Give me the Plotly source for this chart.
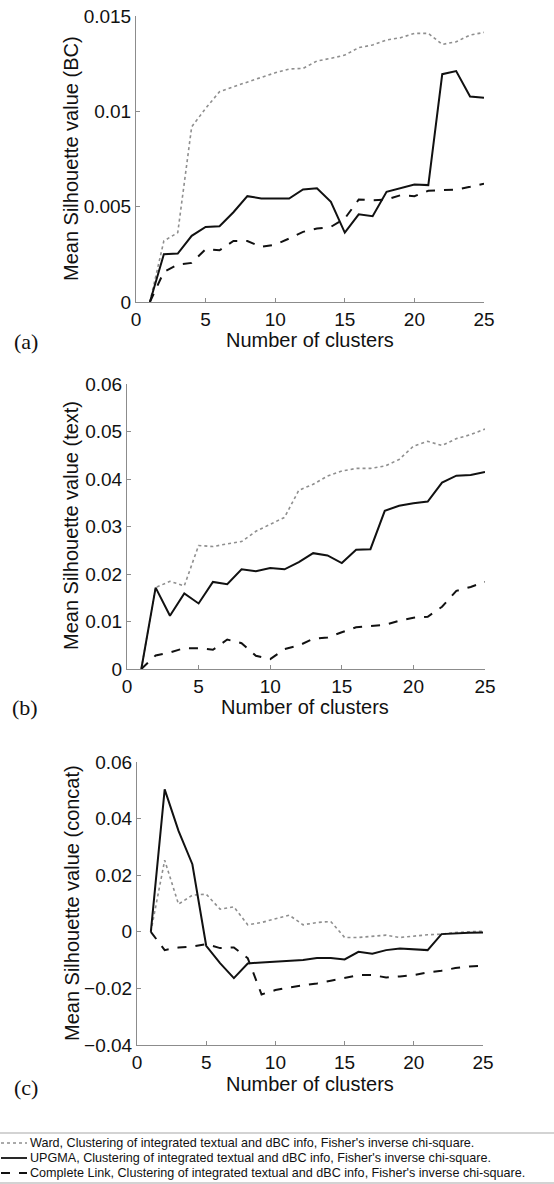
import plotly.graph_objects as go

clusters = list(range(1, 26))

# Panel (a): Mean Silhouette value (BC)
bc_ward = [0, 0.0032, 0.00364, 0.00919, 0.01015, 0.01103, 0.01129, 0.01155, 0.01178, 0.01202,
           0.01222, 0.01225, 0.01264, 0.01278, 0.01295, 0.01334, 0.01348, 0.01374, 0.01386, 0.01409,
           0.01409, 0.01351, 0.01365, 0.0140, 0.01414]
bc_upgma = [0, 0.0025, 0.00254, 0.00347, 0.00394, 0.00397, 0.00471, 0.00555, 0.00543, 0.00543,
            0.00543, 0.0059, 0.00597, 0.00525, 0.00364, 0.0046, 0.0045, 0.00578, 0.00599, 0.00616,
            0.00613, 0.01195, 0.01211, 0.01078, 0.01071]
bc_complete = [0, 0.00158, 0.00196, 0.00205, 0.00277, 0.00271, 0.0032, 0.0032, 0.00289, 0.00301,
               0.00333, 0.00368, 0.00385, 0.00394, 0.00438, 0.00537, 0.00534, 0.00537, 0.0056, 0.00555,
               0.00583, 0.00586, 0.0059, 0.00604, 0.00621]

# Panel (b): Mean Silhouette value (text)
tx_ward = [0, 0.01714, 0.01847, 0.01749, 0.026, 0.02578, 0.02634, 0.02683, 0.02899, 0.03038,
           0.03192, 0.03763, 0.03889, 0.04063, 0.04167, 0.04223, 0.04223, 0.04272, 0.04411, 0.0469,
           0.04794, 0.04704, 0.0485, 0.04934, 0.05052]
tx_upgma = [0, 0.01714, 0.01122, 0.01589, 0.0138, 0.01833, 0.01784, 0.02098, 0.02056, 0.02125,
            0.02098, 0.0225, 0.02439, 0.0239, 0.0223, 0.02509, 0.02523, 0.03331, 0.03436, 0.03491,
            0.03526, 0.03923, 0.0407, 0.04084, 0.04146]
tx_complete = [0, 0.00286, 0.00348, 0.00439, 0.00439, 0.00404, 0.0062, 0.00544, 0.00279, 0.00209,
               0.00418, 0.00495, 0.00634, 0.00662, 0.00774, 0.00878, 0.00906, 0.00927, 0.01017, 0.0108,
               0.01101, 0.0131, 0.01645, 0.01728, 0.01833]

# Panel (c): Mean Silhouette value (concat)
cc_ward = [0, 0.0253, 0.00976, 0.01294, 0.0133, 0.008, 0.00882, 0.00247, 0.00329, 0.00471,
           0.00588, 0.00247, 0.00329, 0.00365, -0.002, -0.002, -0.00153, -0.00118, -0.002, -0.00141,
           -0.00106, -0.00082, -0.00024, 0.0, 0.00024]
cc_upgma = [0, 0.05035, 0.03565, 0.02388, -0.00494, -0.01106, -0.01635, -0.01118, -0.01082, -0.01047,
            -0.01024, -0.0100, -0.0093, -0.0093, -0.00976, -0.00706, -0.00776, -0.00647, -0.00588, -0.00624,
            -0.00647, -0.00082, -0.00047, -0.00035, -0.00024]
cc_complete = [0, -0.00647, -0.00553, -0.00518, -0.00435, -0.00576, -0.00553, -0.0093, -0.02212, -0.02059,
               -0.01965, -0.01906, -0.01824, -0.0173, -0.01635, -0.0153, -0.0153, -0.01612, -0.01576, -0.0153,
               -0.01435, -0.01376, -0.01282, -0.01224, -0.012]

series_names = [
    "Ward, Clustering of integrated textual and dBC info, Fisher's inverse chi-square.",
    "UPGMA, Clustering of integrated textual and dBC info, Fisher's inverse chi-square.",
    "Complete Link, Clustering of integrated textual and dBC info, Fisher's inverse chi-square.",
]
y_titles = ["Mean Silhouette value (BC)", "Mean Silhouette value (text)", "Mean Silhouette value (concat)"]
x_title = "Number of clusters"
panel_labels = ["(a)", "(b)", "(c)"]
x_ticks = [0, 5, 10, 15, 20, 25]
y_ticks = [
    [0, 0.005, 0.01, 0.015],
    [0, 0.01, 0.02, 0.03, 0.04, 0.05, 0.06],
    [-0.04, -0.02, 0, 0.02, 0.04, 0.06],
]
y_ranges = [[0, 0.015], [0, 0.06], [-0.04, 0.06]]

W, H = 554, 1184
# plot areas in pixels (left, right, top, bottom)
areas = [(136, 484, 16, 302), (127, 485, 384, 669), (137, 483, 762, 1045)]
# annotation anchors in pixels
ytitle_pos = [(71, 159), (71, 526), (72, 903)]
xtitle_pos = [(310, 340), (305, 707), (310, 1084)]
label_pos = [(12, 341), (10, 707), (12, 1087)]

styles = [
    dict(color="#8f8f8f", width=1.6, dash="dot"),
    dict(color="#111111", width=2.0, dash="solid"),
    dict(color="#111111", width=2.0, dash="dash"),
]

data_sets = [
    [bc_ward, bc_upgma, bc_complete],
    [tx_ward, tx_upgma, tx_complete],
    [cc_ward, cc_upgma, cc_complete],
]

font_sans = "Liberation Sans, Arial, sans-serif"
font_serif = "Liberation Serif, Times New Roman, serif"


def px(xp):
    return xp / W


def py(yp):
    return 1 - yp / H


fig = go.Figure()

for i, (vals, area) in enumerate(zip(data_sets, areas)):
    xa = "x" if i == 0 else f"x{i+1}"
    ya = "y" if i == 0 else f"y{i+1}"
    for j, v in enumerate(vals):
        fig.add_trace(go.Scatter(
            x=clusters, y=v, mode="lines", line=styles[j], name=series_names[j],
            xaxis=xa, yaxis=ya, showlegend=False,
        ))
    l, r, t, b = area
    ax_common = dict(showgrid=False, zeroline=False, showline=True, linecolor="#8c8c8c", linewidth=1,
                     ticks="inside", ticklen=4, tickcolor="#8c8c8c", mirror=False, automargin=False,
                     tickfont=dict(family=font_sans, size=19, color="#111"))
    xkey = "xaxis" if i == 0 else f"xaxis{i+1}"
    ykey = "yaxis" if i == 0 else f"yaxis{i+1}"
    fig.update_layout(**{
        xkey: dict(ax_common, domain=[px(l), px(r)], range=[0, 25], tickvals=x_ticks, anchor=ya),
        ykey: dict(ax_common, domain=[py(b), py(t)], range=y_ranges[i], tickvals=y_ticks[i], anchor=xa),
    })
    fig.add_annotation(text=y_titles[i], xref="paper", yref="paper",
                       x=px(ytitle_pos[i][0]), y=py(ytitle_pos[i][1]), textangle=-90,
                       xanchor="center", yanchor="middle", showarrow=False,
                       font=dict(family=font_sans, size=20, color="#111"))
    fig.add_annotation(text=x_title, xref="paper", yref="paper",
                       x=px(xtitle_pos[i][0]), y=py(xtitle_pos[i][1]),
                       xanchor="center", yanchor="middle", showarrow=False,
                       font=dict(family=font_sans, size=20, color="#111"))
    fig.add_annotation(text=panel_labels[i], xref="paper", yref="paper",
                       x=px(label_pos[i][0]), y=py(label_pos[i][1]), xanchor="left", yanchor="middle",
                       showarrow=False, font=dict(family=font_serif, size=22, color="#111"))

# Legend box (drawn manually for compact row spacing)
fig.add_shape(type="line", xref="paper", yref="paper", x0=0, x1=1,
              y0=py(1133), y1=py(1133), line=dict(color="#c4c4c4", width=1.5))
fig.add_shape(type="line", xref="paper", yref="paper", x0=0, x1=1,
              y0=py(1183), y1=py(1183), line=dict(color="#c4c4c4", width=1.5))
legend_rows = [1143, 1158, 1173]
for j, name in enumerate(series_names):
    st = dict(styles[j])
    st["width"] = 1.4 if j == 0 else 1.8
    fig.add_shape(type="line", xref="paper", yref="paper", x0=px(1), x1=px(27),
                  y0=py(legend_rows[j]), y1=py(legend_rows[j]), line=st)
    fig.add_annotation(text=name, xref="paper", yref="paper", x=px(28), y=py(legend_rows[j]),
                       xanchor="left", yanchor="middle", showarrow=False,
                       font=dict(family=font_sans, size=12.6, color="#111"))

fig.update_layout(
    template="none",
    width=W, height=H, margin=dict(l=0, r=0, t=0, b=0),
    paper_bgcolor="white", plot_bgcolor="white",
    showlegend=False,
)

fig.write_html("out.html", config={"displayModeBar": False},
               post_script="document.body.style.margin='0';document.body.style.padding='0';")
